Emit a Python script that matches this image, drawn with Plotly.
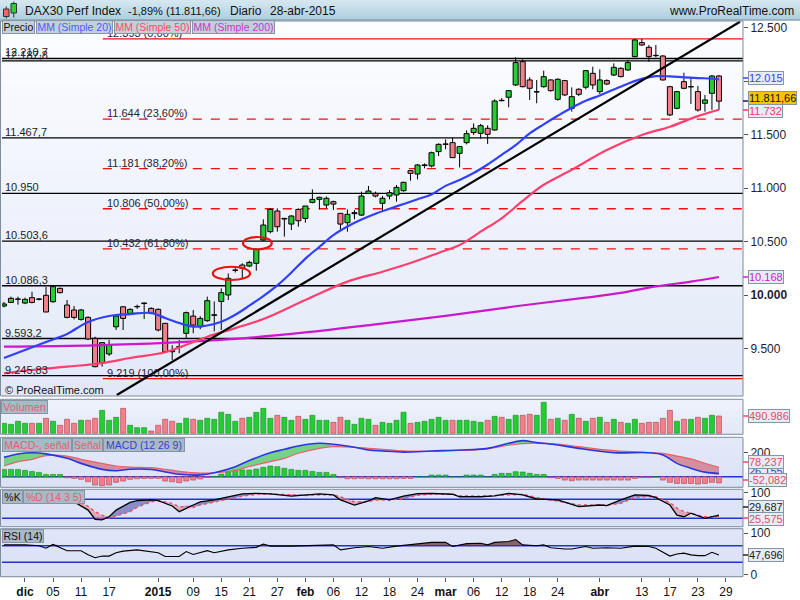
import plotly.graph_objects as go

W, H = 800, 600
FONT = 'Liberation Sans, Arial, sans-serif'

# ------------------------------------------------------------------
# values
# bar index: 0 = 1-dic-2014 ... 99 = 28-abr-2015 (trading days only)
# ------------------------------------------------------------------
bar_idx = list(range(-3, 100))

opens = [9897, 9931, 9960, 9925, 9975, 9960, 9997, 9937, 10062, 9906,
         9860, 9772, 9791, 9595, 9367, 9449, 9703, 9890, 9828, 9890,
         9920, 9875, 9866, 9735, 9480, 9510, 9642, 9803, 9703, 9760,
         9810, 9940, 10000, 10230, 10280, 10271, 10296, 10514, 10592, 10785,
         10710, 10663, 10800, 10716, 10866, 10894, 10841, 10872, 10763, 10676,
         10760, 10747, 10950, 10950, 10857, 10925, 10935, 10975, 11162, 11131,
         11210, 11206, 11340, 11408, 11424, 11324, 11424, 11518, 11511, 11558,
         11542, 11820, 11848, 11963, 12181, 12010, 11897, 11947, 12010, 11829,
         12004, 11745, 11923, 11942, 12072, 11901, 12004, 12056, 12119, 12103,
         12228, 12359, 12315, 12240, 12234, 11947, 11745, 11994, 11945, 11901,
         11792, 11885, 12047]
highs = [9935, 9985, 9985, 9975, 10031, 9972, 10075, 10084, 10070, 9953,
         9897, 9870, 9800, 9610, 9560, 9579, 9812, 9897, 9875, 9910,
         9930, 9885, 9875, 9740, 9530, 9579, 9845, 9860, 9803, 9985,
         9940, 10062, 10202, 10250, 10296, 10320, 10436, 10707, 10810, 10810,
         10722, 10747, 10810, 10832, 10987, 10919, 10920, 10882, 10763, 10800,
         10794, 10966, 11019, 10966, 10925, 10981, 11028, 11059, 11168, 11224,
         11230, 11340, 11418, 11455, 11468, 11393, 11539, 11604, 11599, 11586,
         11829, 11840, 11916, 12222, 12203, 12035, 12010, 12097, 12016, 12026,
         12010, 11941, 11932, 12103, 12134, 12109, 12016, 12165, 12128, 12197,
         12390, 12393, 12337, 12337, 12243, 11954, 11907, 12078, 12025, 11954,
         11870, 12056, 12056]
lows = [9885, 9925, 9910, 9915, 9922, 9950, 9841, 9928, 10015, 9782,
        9772, 9760, 9580, 9324, 9330, 9430, 9673, 9673, 9820, 9870,
        9775, 9820, 9660, 9460, 9393, 9455, 9595, 9642, 9680, 9750,
        9660, 9673, 9953, 10210, 10146, 10260, 10227, 10508, 10576, 10592,
        10545, 10607, 10638, 10676, 10857, 10800, 10810, 10794, 10607, 10592,
        10707, 10738, 10950, 10913, 10776, 10894, 10872, 10966, 11068, 11081,
        11184, 11193, 11299, 11362, 11284, 11193, 11408, 11496, 11461, 11412,
        11536, 11810, 11754, 11954, 11941, 11823, 11792, 11938, 11901, 11817,
        11860, 11714, 11860, 11923, 11923, 11879, 11963, 12047, 12035, 12097,
        12222, 12328, 12181, 12222, 12004, 11673, 11736, 11923, 11786, 11714,
        11714, 11730, 11730]
closes = [9916, 9969, 9962, 9959, 9931, 9963, 9841, 10078, 10022, 9791,
          9791, 9860, 9589, 9330, 9555, 9533, 9803, 9781, 9866, 9893,
          9925, 9828, 9673, 9470, 9470, 9518, 9835, 9719, 9781, 9947,
          9815, 10022, 10156, 10234, 10250, 10305, 10427, 10654, 10800, 10638,
          10716, 10738, 10694, 10832, 10894, 10913, 10904, 10850, 10663, 10754,
          10770, 10925, 10972, 10925, 10904, 10956, 11006, 11053, 11137, 11215,
          11216, 11330, 11408, 11412, 11284, 11387, 11508, 11558, 11583, 11502,
          11813, 11816, 11910, 12172, 11947, 11932, 11900, 12041, 11910, 12016,
          11870, 11854, 11876, 12097, 11963, 12010, 11972, 12128, 12041, 12172,
          12384, 12337, 12228, 12237, 12010, 11683, 11901, 11932, 11948, 11729,
          11823, 12047, 11811.66]

# volume in thousands
volume_k = [284, 255, 341, 284, 284, 284, 426, 341, 227, 397,
            284, 369, 369, 426, 652, 369, 454, 708, 227, 160,
            160, 65, 227, 397, 341, 284, 426, 397, 369, 426,
            397, 596, 539, 341, 426, 454, 596, 708, 426, 511,
            454, 369, 482, 397, 511, 369, 369, 312, 454, 369,
            255, 426, 397, 227, 312, 284, 369, 596, 284, 312,
            341, 397, 454, 369, 369, 369, 369, 341, 312, 369,
            482, 454, 397, 511, 511, 539, 511, 880, 397, 426,
            369, 539, 426, 341, 426, 454, 312, 397, 312, 284,
            397, 284, 312, 312, 426, 652, 341, 397, 397, 454,
            426, 511, 491]

# moving averages (bar index, value)
ma20_x = [-3, 0, 3, 6, 9, 12, 15, 18, 20, 22, 24, 26, 28, 30, 32, 34, 36, 38, 40, 42,
          44, 46, 48, 50, 52, 54, 56, 58, 60, 62, 64, 66, 68, 70, 72, 74, 76, 78, 80, 82,
          84, 86, 88, 90, 92, 94, 96, 98, 99]
ma20_y = [9411, 9486, 9561, 9636, 9748, 9804, 9822, 9832, 9785, 9738, 9705, 9715, 9750, 9815, 9900,
          9990, 10090, 10210, 10340, 10450, 10560, 10640, 10705, 10760, 10806, 10850, 10895, 10940,
          11020, 11075, 11140, 11220, 11310, 11400, 11510, 11595, 11675, 11750, 11815, 11865, 11920,
          11975, 12020, 12045, 12043, 12035, 12028, 12022, 12015]
ma50_x = [-3, 1, 6, 11, 15, 20, 23, 26, 30, 34, 40, 46, 51, 55, 59, 62, 65, 68, 71, 74,
          78, 83, 88, 92, 96, 99]
ma50_y = [9268, 9299, 9330, 9364, 9411, 9465, 9535, 9610, 9690, 9775, 9953, 10125, 10218, 10299,
          10393, 10467, 10592, 10717, 10880, 11030, 11170, 11355, 11495, 11573, 11672, 11732]
ma200_x = [-3, 10, 20, 30, 40, 50, 60, 70, 80, 85, 90, 95, 99]
ma200_y = [9517, 9530, 9552, 9590, 9650, 9725, 9805, 9895, 9975, 10020, 10080, 10125, 10168]

# MACD (12 26 9)
macd_x = [-3, -1, 1, 3, 6, 8, 11, 13, 15, 18, 20, 22, 25, 27, 30, 32, 35, 37, 39, 42,
          44, 47, 49, 51, 54, 58, 62, 66, 69, 71, 73, 76, 79, 84, 89, 91, 93, 95, 97, 99]
macd_line = [161, 189, 200, 190, 153, 111, 61, 50, 62, 60, 40, 20, 15, 33, 84, 135, 200, 228, 256, 278,
             270, 245, 222, 214, 205, 214, 222, 236, 278, 300, 284, 264, 236, 200, 200, 181, 111, 70, 38, 26.155]
macd_signal = [89, 125, 145, 176, 172, 145, 111, 89, 80, 75, 62, 45, 30, 33, 50, 85, 125, 153, 195, 236,
               250, 245, 236, 228, 215, 212, 218, 232, 262, 276, 280, 272, 250, 217, 200, 195, 172, 148, 112, 78.237]
macd_hist = [61, 61, 61, 53, 44, 36, 19, 19, 19,
             -8, -14, -22, -42, -69, -75, -69, -47, -36, -22, -17, -14, -14, -14, -36, -42, -50, -36, -28, -19,
             -3, 3,
             22, 42, 56, 56, 56, 64, 78, 89, 84, 70, 61, 53, 53, 44, 36, 36, 19,
             -8, -17, -17, -14, -17, -17, -17, -17, -17, -14, -14,
             0, 0, 14, 14, 14, 0, 0, 14, 14, 14, 0,
             19, 28, 28, 42, 39, 28, 19, 19,
             -8, -14, -28, -33, -28, -28, -28, -28, -28, -28, -28, -28, -14,
             -8, -8, 0,
             -28, -47, -56, -56, -56, -61, -56, -47, -52.082]

# stochastic %K / %D (14 3 5)
stoch_x = [-3, 0, 3, 5, 7, 9, 10, 11, 12, 13, 15, 16, 18, 19, 21, 22, 24, 25, 27, 29,
           31, 33, 35, 38, 40, 42, 44, 45, 47, 49, 50, 52, 54, 56, 58, 61, 62, 65, 67, 69,
           71, 73, 76, 79, 82, 83, 85, 87, 89, 90, 92, 93, 94, 95, 97, 98, 99]
stoch_k = [80, 88, 92, 86, 72, 46, 17, 15, 25, 46, 70, 76, 78, 76, 59, 41, 62, 72, 78, 88,
           97, 99, 97, 90, 94, 97, 94, 78, 62, 75, 85, 78, 90, 98, 99, 96, 88, 88, 91, 99,
           94, 81, 78, 57, 62, 60, 78, 94, 92, 85, 62, 30, 25, 36, 20, 25, 29.687]
stoch_d = [82, 86, 90, 88, 80, 58, 41, 30, 21, 27, 41, 55, 72, 76, 67, 57, 55, 62, 72, 82,
           90, 96, 97, 94, 92, 94, 94, 88, 72, 73, 78, 78, 82, 93, 96, 96, 91, 90, 92, 96,
           96, 86, 75, 62, 62, 62, 67, 86, 88, 88, 70, 52, 41, 35, 25, 25, 25.575]

# RSI (14)
rsi_x = [-3, 0, 2, 3, 4, 6, 8, 9, 10, 11, 12, 13, 14, 16, 19, 20, 22, 23, 24, 26,
         27, 29, 31, 33, 34, 35, 38, 40, 42, 44, 45, 47, 49, 51, 53, 55, 58, 60, 61, 63,
         65, 66, 67, 69, 70, 71, 73, 74, 75, 77, 78, 80, 81, 83, 85, 87, 89, 90, 92, 93,
         94, 95, 96, 97, 98, 99]
rsi_val = [72, 72, 70, 64, 73, 58, 58, 48, 41, 45, 45, 53, 57, 60, 53, 44, 44, 56, 49, 58,
           53, 60, 64, 66, 74, 69, 69, 70, 72, 72, 60, 65, 68, 64, 69, 72, 78, 78, 68, 75,
           76, 72, 78, 80, 85, 72, 70, 72, 65, 62, 62, 68, 64, 65, 64, 69, 68, 64, 45, 50,
           52, 48, 46, 46, 54, 47.696]

tick_pos = [0, 4, 8, 12, 19, 24, 28, 32, 36, 40, 44, 48, 52, 56, 60, 64, 68, 72, 76, 82, 88, 92, 96, 100]
tick_text = ['dic', '05', '11', '17', '2015', '09', '15', '21', '27', 'feb', '06', '12', '18', '24',
             'mar', '06', '12', '18', '24', 'abr', '13', '17', '23', '29']
bold_ticks = {'dic', '2015', 'feb', 'mar', 'abr'}

# 12.000 sits under the 12.015 box in the original, so its label stays empty
price_ticks = [9500, 10000, 10500, 11000, 11500, 12000, 12500]
price_tick_text = ['9.500', '<b>10.000</b>', '10.500', '11.000', '11.500', '', '12.500']

support_levels = [12210.7, 12187.8, 11467.7, 10950, 10503.6, 10086.3, 9593.2, 9245.83]
support_text = ['12.210,7', '12.187,8', '11.467,7', '10.950', '10.503,6', '10.086,3', '9.593,2', '9.245,83']

fib_levels = [12393, 11644, 11181, 10806, 10432, 9219]
fib_text = ['12.393 (0,00%)', '11.644 (23,60%)', '11.181 (38,20%)', '10.806 (50,00%)',
            '10.432 (61,80%)', '9.219 (100,00%)']
fib_start = 11.1

trend_x = [13.1, 102.0]
trend_y = [9065, 12554]

ellipse_x = [(26.8, 32.1), (31.1, 35.2)]
ellipse_y = [(10140, 10264), (10427, 10542)]


# ------------------------------------------------------------------
# helpers
# ------------------------------------------------------------------
def px(p):
    return p / W


def py(p):
    # pixel row counted from the top -> paper y
    return 1 - p / H


def mix(c1, c2, f):
    return 'rgb(%d,%d,%d)' % tuple(round(a + (b - a) * f) for a, b in zip(c1, c2))


def vgrad(x0, x1, top, bot, c_top, c_bot, n=24):
    ''' stack of thin rects faking a vertical gradient, pixel coords '''
    out = []
    for k in range(n):
        t = top + (bot - top) * k / n
        b = top + (bot - top) * (k + 1) / n + 0.6
        out.append(dict(type='rect', xref='paper', yref='paper', x0=px(x0), x1=px(x1),
                        y0=py(b), y1=py(t), fillcolor=mix(c_top, c_bot, (k + 0.5) / n),
                        line=dict(width=0), layer='below'))
    return out


def label_box(text, x, y, color, bg, width=None, size=11, border='#8495a6'):
    d = dict(text=text, x=px(x), y=py(y), xref='paper', yref='paper', xanchor='left',
             yanchor='middle', showarrow=False, font=dict(size=size, color=color, family=FONT),
             bgcolor=bg, bordercolor=border, borderwidth=1, borderpad=0)
    if width:
        d['width'] = width
        d['align'] = 'center'
    return d


X_DOM = [px(2), px(743)]
X_RNG = [-3.28, 102.43]
GREEN = '#25cc35'
RED = '#f2808a'

# panel pixel rows (top, bottom)
P_PRICE = (21, 396)
P_VOL = (399.3, 434.3)
P_MACD = (437.3, 487.3)
P_STO = (489.3, 526.7)
P_RSI = (528.7, 576.7)

fig = go.Figure()

# ---------------- price panel ----------------
up = [c >= o for o, c in zip(opens, closes)]
body_col = [GREEN if u else RED for u in up]
body_base = [min(o, c) for o, c in zip(opens, closes)]
body_h = [max(abs(c - o), 3) for o, c in zip(opens, closes)]

# wicks split above/below the body so they do not cross it
wx, wy = [], []
for i, o, h, l, c in zip(bar_idx, opens, highs, lows, closes):
    wx += [i, i, None, i, i, None]
    wy += [h, max(o, c), None, min(o, c), l, None]

fig.add_trace(go.Bar(x=bar_idx, y=body_h, base=body_base, width=0.72,
                     marker=dict(color=body_col, line=dict(color='black', width=1)),
                     xaxis='x', yaxis='y'))
fig.add_trace(go.Scatter(x=wx, y=wy, mode='lines', line=dict(color='black', width=1),
                         xaxis='x', yaxis='y'))

for xs, ys, col in [(ma200_x, ma200_y, '#cc18cc'), (ma50_x, ma50_y, '#ff3f6e'),
                    (ma20_x, ma20_y, '#3140ff')]:
    fig.add_trace(go.Scatter(x=xs, y=ys, mode='lines', line=dict(color=col, width=2.2, shape='spline'),
                             xaxis='x', yaxis='y'))

fig.add_trace(go.Scatter(x=trend_x, y=trend_y, mode='lines', line=dict(color='black', width=2.2),
                         xaxis='x', yaxis='y'))

# ---------------- volume ----------------
vol_line = ['#1a8a24' if u else '#b04050' for u in up]
fig.add_trace(go.Bar(x=bar_idx, y=volume_k, width=0.72,
                     marker=dict(color=body_col, line=dict(color=vol_line, width=0.6)),
                     xaxis='x2', yaxis='y2'))

# ---------------- MACD ----------------
hist_col = [GREEN if v >= 0 else RED for v in macd_hist]
hist_line = ['#1a8a24' if v >= 0 else '#b04050' for v in macd_hist]
fig.add_trace(go.Bar(x=bar_idx, y=macd_hist, width=0.72,
                     marker=dict(color=hist_col, line=dict(color=hist_line, width=0.6)),
                     xaxis='x3', yaxis='y3'))

m_up = [max(a, b) for a, b in zip(macd_line, macd_signal)]
m_dn = [min(a, b) for a, b in zip(macd_line, macd_signal)]
for top, col in [(m_up, 'rgba(60,200,70,0.65)'), (m_dn, 'rgba(205,85,100,0.6)')]:
    fig.add_trace(go.Scatter(x=macd_x, y=macd_signal, mode='lines', line=dict(width=0, shape='spline'),
                             xaxis='x3', yaxis='y3'))
    fig.add_trace(go.Scatter(x=macd_x, y=top, mode='lines', line=dict(width=0, shape='spline'),
                             fill='tonexty', fillcolor=col, xaxis='x3', yaxis='y3'))
fig.add_trace(go.Scatter(x=macd_x, y=macd_signal, mode='lines',
                         line=dict(color='#e8606a', width=1.2, shape='spline'), xaxis='x3', yaxis='y3'))
fig.add_trace(go.Scatter(x=macd_x, y=macd_line, mode='lines',
                         line=dict(color='#2a36e0', width=1.6, shape='spline'), xaxis='x3', yaxis='y3'))

# ---------------- stochastic ----------------
s_up = [max(a, b) for a, b in zip(stoch_k, stoch_d)]
s_dn = [min(a, b) for a, b in zip(stoch_k, stoch_d)]
for top, col in [(s_up, 'rgba(70,70,160,0.55)'), (s_dn, 'rgba(225,120,140,0.55)')]:
    fig.add_trace(go.Scatter(x=stoch_x, y=stoch_d, mode='lines', line=dict(width=0),
                             xaxis='x4', yaxis='y4'))
    fig.add_trace(go.Scatter(x=stoch_x, y=top, mode='lines', line=dict(width=0),
                             fill='tonexty', fillcolor=col, xaxis='x4', yaxis='y4'))
fig.add_trace(go.Scatter(x=stoch_x, y=stoch_d, mode='lines',
                         line=dict(color='#e8506a', width=1.4, dash='dot'), xaxis='x4', yaxis='y4'))
fig.add_trace(go.Scatter(x=stoch_x, y=stoch_k, mode='lines',
                         line=dict(color='black', width=1.3), xaxis='x4', yaxis='y4'))

# ---------------- RSI ----------------
r_top = [max(v, 70) for v in rsi_val]
fig.add_trace(go.Scatter(x=rsi_x, y=[70] * len(rsi_x), mode='lines', line=dict(width=0),
                         xaxis='x5', yaxis='y5'))
fig.add_trace(go.Scatter(x=rsi_x, y=r_top, mode='lines', line=dict(width=0), fill='tonexty',
                         fillcolor='rgba(110,55,60,0.75)', xaxis='x5', yaxis='y5'))
fig.add_trace(go.Scatter(x=rsi_x, y=rsi_val, mode='lines', line=dict(color='black', width=1.1),
                         xaxis='x5', yaxis='y5'))

# ------------------------------------------------------------------
# shapes: backgrounds, frames, levels
# ------------------------------------------------------------------
shapes = []
shapes += vgrad(0, 800, 0, 20, (214, 232, 241), (172, 206, 222), 10)
shapes += vgrad(1, 743, *P_PRICE, (252, 253, 255), (226, 232, 248), 30)
shapes += vgrad(1, 743, *P_VOL, (238, 242, 251), (226, 232, 248), 6)
shapes += vgrad(1, 743, *P_MACD, (228, 234, 249), (218, 225, 246), 8)
shapes += vgrad(1, 743, *P_STO, (224, 230, 248), (218, 225, 246), 6)
shapes += vgrad(1, 743, *P_RSI, (224, 230, 248), (218, 225, 246), 8)

for lvl in support_levels:
    shapes.append(dict(type='line', xref='paper', x0=X_DOM[0], x1=X_DOM[1], yref='y', y0=lvl, y1=lvl,
                       line=dict(color='black', width=1.3), layer='below'))
for k, lvl in enumerate(fib_levels):
    solid = k in (0, len(fib_levels) - 1)
    shapes.append(dict(type='line', xref='x', x0=fib_start, x1=X_RNG[1], yref='y', y0=lvl, y1=lvl,
                       line=dict(color='#ee1111', width=1.3, dash='solid' if solid else 'dash'),
                       layer='below'))
for (x0, x1), (y0, y1) in zip(ellipse_x, ellipse_y):
    shapes.append(dict(type='circle', xref='x', yref='y', x0=x0, x1=x1, y0=y0, y1=y1,
                       line=dict(color='#ee1111', width=2.2)))

shapes.append(dict(type='line', xref='paper', x0=X_DOM[0], x1=X_DOM[1], yref='y3', y0=0, y1=0,
                   line=dict(color='#2233dd', width=1.6), layer='below'))
for yr, lv in [('y4', 80), ('y4', 20), ('y5', 70), ('y5', 30)]:
    shapes.append(dict(type='line', xref='paper', x0=X_DOM[0], x1=X_DOM[1], yref=yr, y0=lv, y1=lv,
                       line=dict(color='#2233cc', width=1.5), layer='below'))

for top, bot in [P_PRICE, P_VOL, P_MACD, P_STO, P_RSI]:
    shapes.append(dict(type='rect', xref='paper', yref='paper', x0=px(0.5), x1=px(743),
                       y0=py(bot), y1=py(top), line=dict(color='#7e8d9c', width=1)))
shapes.append(dict(type='line', xref='paper', yref='paper', x0=0, x1=1, y0=py(20), y1=py(20),
                   line=dict(color='#7e8d9c', width=1)))

# little candle icon in the header
for (x0, x1, b0, b1, w0, w1, col) in [(3.5, 9, 9, 16.5, 6.5, 18.5, '#ee6666'),
                                      (11, 16.5, 3.5, 13, 1.5, 17.5, '#33cc33')]:
    xm = (x0 + x1) / 2
    shapes.append(dict(type='line', xref='paper', yref='paper', x0=px(xm), x1=px(xm),
                       y0=py(w1), y1=py(w0), line=dict(color='#333', width=1)))
    shapes.append(dict(type='rect', xref='paper', yref='paper', x0=px(x0), x1=px(x1),
                       y0=py(b1), y1=py(b0), fillcolor=col, line=dict(color='#333', width=1)))

# small coloured ticks in front of the value boxes
for yy, col in [(78, '#3344ff'), (101, '#222222'), (110, '#ff3366'), (277, '#cc22cc'),
                (416, '#e05060'), (462, '#e05060'), (480, '#e05060'), (507, '#222222'),
                (518, '#e05060'), (555, '#222222')]:
    shapes.append(dict(type='line', xref='paper', yref='paper', x0=px(743), x1=px(748),
                       y0=py(yy), y1=py(yy), line=dict(color=col, width=1.5)))

# ------------------------------------------------------------------
# annotations
# ------------------------------------------------------------------
ann = []
for lvl, txt in zip(support_levels, support_text):
    ann.append(dict(text=txt, x=px(3), xref='paper', xanchor='left', y=lvl, yref='y',
                    yanchor='bottom', yshift=-2, showarrow=False,
                    font=dict(size=11, color='#222', family=FONT)))
for lvl, txt in zip(fib_levels, fib_text):
    ann.append(dict(text=txt, x=fib_start + 0.3, xref='x', xanchor='left', y=lvl, yref='y',
                    yanchor='bottom', yshift=-2, showarrow=False,
                    font=dict(size=11, color='#2a2238', family=FONT)))

ann.append(dict(text='© ProRealTime.com', x=px(3), y=py(390), xref='paper', yref='paper',
                xanchor='left', yanchor='middle', showarrow=False,
                font=dict(size=11, color='#111', family=FONT)))

# header texts
for txt, x, sz in [('DAX30 Perf Index', 23, 12), ('-1,89% (11.811,66)', 126, 11),
                   ('Diario', 228, 12), ('28-abr-2015', 268, 12)]:
    ann.append(dict(text=txt, x=px(x), y=py(11), xref='paper', yref='paper', xanchor='left',
                    yanchor='middle', showarrow=False, font=dict(size=sz, color='#111', family=FONT)))
ann.append(dict(text='www.ProRealTime.com', x=px(796), y=py(11), xref='paper', yref='paper',
                xanchor='right', yanchor='middle', showarrow=False,
                font=dict(size=12, color='#111', family=FONT)))

# legend buttons
LB = '#c3d0da'
ann.append(label_box('Precio', 2, 27, '#111', LB, 31, 10.5))
ann.append(label_box('MM (Simple 20)', 36, 27, '#4a5cff', LB, 75, 10.5))
ann.append(label_box('MM (Simple 50)', 114, 27, '#ff4a6a', LB, 75, 10.5))
ann.append(label_box('MM (Simple 200)', 192, 27, '#cc33cc', LB, 81, 10.5))

IB = '#a9b9c5'
ann.append(label_box('Volumen', 1, 406.5, '#e46070', IB, 45))
ann.append(label_box('MACD-, señal', 2, 444.5, '#e46070', IB, 68, 10.5))
ann.append(label_box('Señal', 72, 444.5, '#e46070', IB, 29, 10.5))
ann.append(label_box('MACD (12 26 9)', 103, 444.5, '#3344cc', IB, 80, 10.5))
ann.append(label_box('%K', 2, 497, '#111', IB, 19, 10.5))
ann.append(label_box('%D (14 3 5)', 23, 497, '#e46070', IB, 60, 10.5))
ann.append(label_box('RSI (14)', 2, 536, '#111', IB, 40, 10.5))

# value boxes on the right
VB = '#e6ebf5'
ann.append(label_box('12.015', 748, 78, '#3344ff', VB))
ann.append(label_box('11.811,66', 748, 98, '#111', '#f7c500'))
ann.append(label_box('11.732', 748, 111.5, '#ff3366', VB))
ann.append(label_box('10.168', 748, 277, '#cc22cc', VB))
ann.append(label_box('490.986', 748, 416, '#e05060', VB))
ann.append(label_box('26,155', 748, 471, '#3344cc', VB))
ann.append(label_box('78,237', 748, 462, '#e05060', VB))
ann.append(label_box('-52,082', 748, 479.5, '#e05060', VB))
ann.append(label_box('29,687', 748, 507, '#222', VB))
ann.append(label_box('25,575', 748, 518.5, '#e05060', VB))
ann.append(label_box('47,696', 748, 555, '#222', VB))

# ------------------------------------------------------------------
# axes
# ------------------------------------------------------------------
ax_common = dict(domain=X_DOM, range=X_RNG, showgrid=False, zeroline=False, showline=False,
                 showticklabels=False, automargin=False)
tick_font = dict(size=12, color='#1d1d33', family=FONT)
y_common = dict(side='right', showgrid=False, zeroline=False, showline=False, automargin=False,
                ticks='outside', ticklen=4, tickcolor='#555', tickfont=tick_font)

layout = dict(
    width=W, height=H, margin=dict(l=0, r=0, t=0, b=0),
    paper_bgcolor='white', plot_bgcolor='rgba(0,0,0,0)',
    showlegend=False, barmode='overlay', hovermode=False,
    shapes=shapes, annotations=ann,
    xaxis=dict(anchor='y', **ax_common),
    xaxis2=dict(anchor='y2', matches='x', **ax_common),
    xaxis3=dict(anchor='y3', matches='x', **ax_common),
    xaxis4=dict(anchor='y4', matches='x', **ax_common),
    xaxis5=dict(anchor='y5', matches='x', **dict(ax_common, showticklabels=True)),
    yaxis=dict(anchor='x', domain=[py(P_PRICE[1]), py(P_PRICE[0])], range=[9056, 12561],
               tickvals=price_ticks, ticktext=price_tick_text, **y_common),
    yaxis2=dict(anchor='x2', domain=[py(P_VOL[1]), py(P_VOL[0])], range=[-28, 965],
                showticklabels=False, side='right', showgrid=False, zeroline=False, automargin=False),
    yaxis3=dict(anchor='x3', domain=[py(P_MACD[1]), py(P_MACD[0])], range=[-88, 328],
                tickvals=[200], ticktext=['200'], **y_common),
    yaxis4=dict(anchor='x4', domain=[py(P_STO[1]), py(P_STO[0])], range=[-6.5, 111.6],
                tickvals=[100], ticktext=['100'], **y_common),
    yaxis5=dict(anchor='x5', domain=[py(P_RSI[1]), py(P_RSI[0])], range=[-4.7, 111],
                tickvals=[0, 100], ticktext=['0', '100'], **y_common),
)
fig.update_layout(**layout)
fig.update_layout(xaxis5=dict(tickvals=tick_pos,
                              ticktext=['<b>%s</b>' % t if t in bold_ticks else t for t in tick_text],
                              ticks='outside', ticklen=4, tickcolor='#555',
                              tickfont=dict(size=12, color='#111', family=FONT)))

# the page body has a default 8px margin; drop it so the figure sits at 0,0
fig.write_html('out.html', config={'displayModeBar': False},
               post_script="document.body.style.margin='0';"
                           "document.documentElement.style.overflow='hidden';")
